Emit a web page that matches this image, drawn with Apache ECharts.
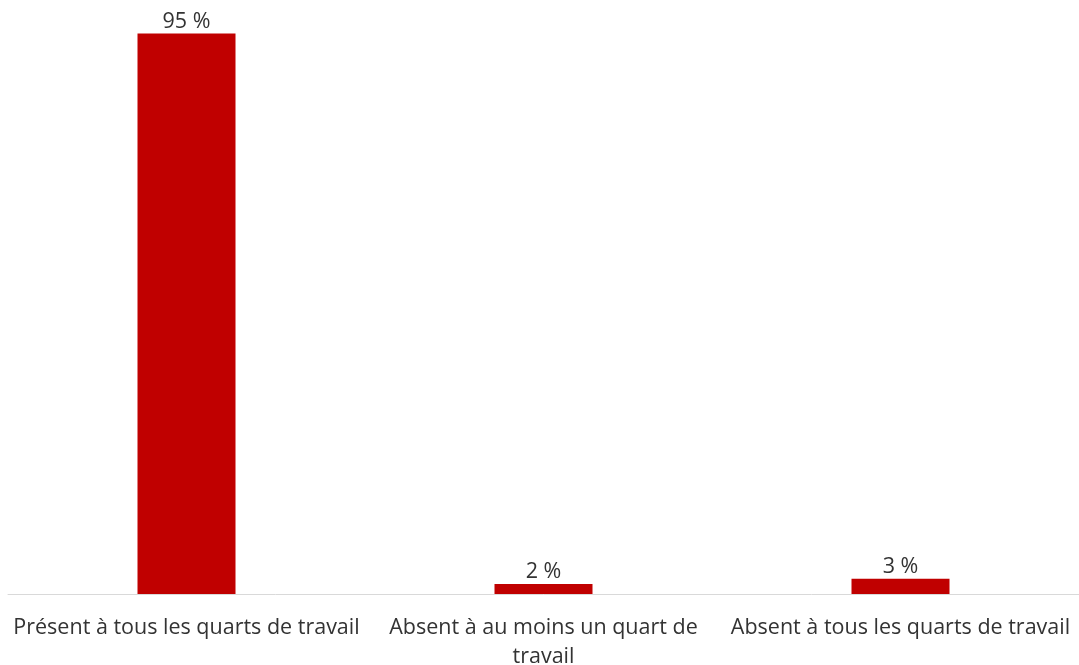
<!DOCTYPE html>
<html>
<head>
<meta charset="utf-8">
<script src="https://cdn.jsdelivr.net/npm/echarts@6/dist/echarts.min.js"></script>
<style>
  html, body { margin: 0; padding: 0; background: #fff; }
  #chart { width: 1079px; height: 665px; }
</style>
</head>
<body>
<div id="chart"></div>
<script>
let categories = ['Présent à tous les quarts de travail', 'Absent à au moins un quart de travail', 'Absent à tous les quarts de travail'];
let values = [95.4, 1.7, 2.6];

let myChart = echarts.init(document.getElementById('chart'));
let option;

option = {
    animation: false,
    grid: { left: 8, right: 0, top: 6.5, bottom: 71, outerBoundsMode: 'none', containLabel: false },
    xAxis: {
        type: 'category',
        data: categories,
        axisLine: { lineStyle: { color: '#d9d9d9', width: 1 } },
        axisTick: { show: false },
        axisLabel: {
            interval: 0,
            margin: 19,
            color: '#333333',
            fontFamily: 'Open Sans',
            fontSize: 21.5,
            lineHeight: 29,
            formatter: function(v){
                // the middle label wraps in the original
                return v.replace('quart de travail', 'quart de\ntravail');
            }
        }
    },
    yAxis: {
        type: 'value',
        min: 0,
        max: 100,
        show: false
    },
    series: [
        {
            type: 'bar',
            data: values,
            barWidth: 98,
            itemStyle: { color: '#c00000' },
            label: {
                show: true,
                position: 'top',
                distance: 1,
                color: '#333333',
                fontFamily: 'Open Sans',
                fontSize: 21.5,
                formatter: function(p){ return Math.round(p.value) + ' %'; }
            }
        }
    ]
};

option && myChart.setOption(option);
</script>
</body>
</html>
